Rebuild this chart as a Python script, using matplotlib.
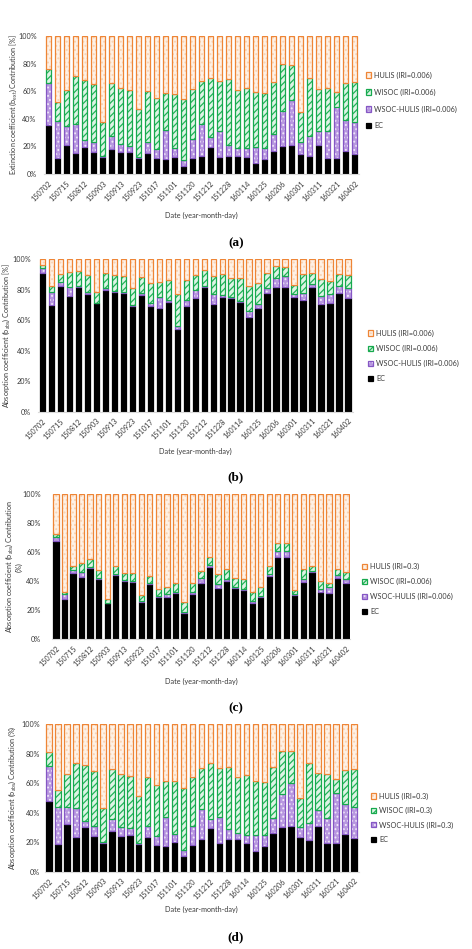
import matplotlib
matplotlib.use("Agg")
import matplotlib.pyplot as plt
from matplotlib.patches import Patch
import numpy as np

plt.rcParams['font.family'] = ['Lato', 'DejaVu Sans']
plt.rcParams['mathtext.fontset'] = 'custom'
plt.rcParams['mathtext.rm'] = 'Lato'
plt.rcParams['mathtext.it'] = 'Lato:italic'
plt.rcParams['hatch.linewidth'] = 0.9

dates = ['150702', '150709', '150715', '150722', '150812', '150822', '150903', '150908',
         '150913', '150918', '150923', '151005', '151017', '151023', '151101', '151110',
         '151120', '151201', '151212', '151220', '151228', '160105', '160114', '160120',
         '160125', '160201', '160206', '160220', '160301', '160305', '160311', '160316',
         '160321', '160327', '160402']

# ---- panel (a): extinction contribution, %
a_ec = [35.5, 11.8, 21.0, 15.5, 19.8, 15.7, 12.6, 17.9, 16.2, 16.2, 11.6, 15.5, 11.6, 10.6, 12.6, 5.8, 11.4, 13.3,
        19.8, 12.1, 13.3, 13.3, 12.6, 8.2, 10.6, 16.9, 20.5, 21.0, 14.5, 13.3, 21.0, 11.8, 11.8, 16.7, 14.3]
a_wsoc_hulis = [30.2, 26.8, 14.0, 20.7, 4.8, 7.7, 0.4, 9.6, 5.5, 4.1, 0.5, 7.9, 6.5, 21.3, 6.0, 4.3, 14.0, 22.7,
                7.3, 19.3, 7.7, 5.3, 6.0, 11.6, 8.0, 12.1, 25.2, 32.6, 8.9, 14.2, 10.2, 19.4, 37.0, 22.4, 23.1]
a_wisoc = [10.1, 13.3, 25.9, 34.8, 43.5, 41.6, 24.9, 38.2, 40.9, 40.6, 34.8, 36.7, 37.2, 26.6, 39.4, 44.2, 36.0, 31.6,
           42.7, 36.2, 47.6, 42.3, 44.0, 39.9, 39.9, 37.9, 34.0, 25.4, 21.3, 42.3, 30.2, 31.4, 10.4, 27.1, 29.0]
a_hulis = [24.2, 48.1, 39.1, 29.0, 31.9, 35.0, 62.1, 34.3, 37.4, 39.1, 53.1, 39.9, 44.7, 41.5, 42.0, 45.7, 38.6, 32.4,
           30.2, 32.4, 31.4, 39.1, 37.4, 40.3, 41.5, 33.1, 20.3, 21.0, 55.3, 30.2, 38.6, 37.4, 40.8, 33.8, 33.6]

# ---- panel (b): absorption contribution, %
b_ec = [90.8, 70.0, 82.7, 76.1, 82.1, 77.0, 71.1, 79.9, 78.3, 78.1, 69.4, 76.6, 69.6, 67.8, 72.2, 54.3, 69.4, 74.4,
        81.6, 70.7, 75.5, 74.4, 72.2, 61.9, 68.3, 78.1, 81.6, 82.1, 75.1, 73.3, 82.1, 70.5, 71.1, 77.7, 74.8]
b_wsoc_hulis = [3.3, 8.8, 2.2, 5.5, 0.4, 1.8, 0.5, 1.5, 0.9, 0.7, 0.6, 1.5, 1.5, 7.7, 1.1, 2.2, 3.9, 5.5,
                0.7, 6.3, 1.1, 0.7, 0.7, 4.4, 2.2, 2.9, 5.9, 7.2, 2.1, 4.4, 1.5, 5.6, 5.9, 5.0, 6.2]
b_wisoc = [2.2, 3.9, 5.3, 10.3, 10.1, 10.9, 7.2, 9.4, 10.5, 10.5, 11.0, 10.5, 13.1, 9.4, 13.1, 20.7, 13.1, 9.8,
           10.7, 12.3, 13.8, 12.9, 14.6, 16.2, 13.7, 9.8, 8.1, 5.9, 6.0, 12.5, 7.2, 11.0, 9.0, 7.7, 8.7]
b_hulis = [3.7, 17.3, 9.8, 8.1, 7.4, 10.3, 21.2, 9.2, 10.3, 10.7, 19.0, 11.4, 15.8, 15.1, 13.6, 22.8, 13.6, 10.3,
           7.0, 10.7, 9.6, 12.0, 12.5, 17.5, 15.8, 9.2, 4.4, 4.8, 16.8, 9.8, 9.2, 12.9, 14.0, 9.6, 10.3]

# ---- panel (c): absorption contribution, %, HULIS IRI=0.3
c_ec = [68.0, 27.4, 45.9, 42.6, 48.8, 41.2, 24.7, 44.2, 40.1, 39.6, 25.8, 37.8, 28.8, 28.8, 32.0, 18.2, 30.9, 38.5,
        50.0, 35.0, 40.3, 35.5, 33.9, 24.7, 28.8, 43.5, 56.9, 56.9, 30.4, 39.6, 46.1, 32.7, 31.6, 41.9, 38.9]
c_wsoc_hulis = [2.7, 3.7, 1.8, 3.9, 0.7, 0.7, 0.4, 0.7, 0.7, 0.5, 0.7, 0.7, 0.9, 2.3, 0.7, 0.7, 1.8, 3.4,
                1.2, 2.8, 0.9, 0.7, 0.9, 1.6, 0.9, 1.4, 3.9, 4.2, 0.7, 1.6, 0.7, 1.6, 4.6, 2.6, 2.3]
c_wisoc = [1.7, 1.6, 2.8, 5.8, 5.6, 5.8, 2.3, 5.8, 5.1, 5.3, 3.7, 5.0, 5.1, 4.6, 5.8, 6.4, 6.2, 5.3,
           5.3, 6.9, 7.2, 6.0, 6.4, 6.0, 6.0, 5.6, 5.8, 5.5, 2.8, 7.4, 3.7, 6.0, 2.3, 3.9, 5.3]
c_hulis = [27.6, 67.3, 49.5, 47.7, 44.9, 52.3, 72.6, 49.3, 54.1, 54.6, 69.8, 56.5, 65.2, 64.3, 61.5, 74.7, 61.1, 52.8,
           43.5, 55.3, 51.6, 57.8, 58.8, 67.7, 64.3, 49.5, 33.4, 33.4, 66.1, 51.4, 49.5, 59.7, 61.5, 51.6, 53.5]

# ---- panel (d): absorption contribution, %, all IRI=0.3
d_ec = [48.2, 18.6, 32.1, 23.8, 30.5, 24.4, 19.7, 27.6, 24.4, 24.9, 18.8, 23.8, 18.1, 17.4, 20.4, 10.6, 18.1, 21.9,
        29.9, 19.2, 22.2, 21.9, 19.7, 14.0, 17.4, 26.0, 30.5, 31.2, 23.3, 21.5, 31.0, 19.2, 19.7, 25.6, 22.6]
d_wsoc_hulis = [23.7, 25.1, 11.6, 19.2, 3.9, 6.6, 0.4, 7.9, 5.7, 4.5, 0.4, 7.2, 6.3, 19.9, 5.2, 4.1, 12.9, 20.4,
                5.6, 17.7, 6.8, 4.1, 5.2, 10.9, 7.5, 10.2, 22.0, 28.8, 7.2, 11.8, 10.9, 17.5, 33.5, 20.1, 21.1]
d_wisoc = [9.1, 11.7, 22.6, 31.0, 38.0, 37.6, 22.9, 34.0, 36.0, 35.5, 32.2, 33.5, 34.4, 24.2, 35.9, 41.9, 33.5, 28.3,
           38.5, 33.7, 42.3, 38.5, 40.7, 36.6, 36.2, 35.1, 29.6, 21.9, 19.3, 40.2, 25.3, 29.4, 9.5, 23.3, 25.8]
d_hulis = [19.0, 44.6, 33.7, 26.0, 27.6, 31.4, 57.0, 30.5, 33.9, 35.1, 48.6, 35.5, 41.2, 38.5, 38.5, 43.4, 35.5, 29.4,
           26.0, 29.4, 28.7, 35.5, 34.4, 38.5, 38.9, 28.7, 17.9, 18.1, 50.2, 26.5, 32.8, 33.9, 37.3, 31.0, 30.5]

yticks = [0, 20, 40, 60, 80, 100]
ytick_labels = ['0%', '20%', '40%', '60%', '80%', '100%']

W, H = 472, 949
fig = plt.figure(figsize=(W / 100, H / 100), dpi=100)

# face colour, hatch pattern, hatch colour, outline colour
styles = {
    'EC': dict(face='black', hatch=None, hcol='black', edge='black'),
    'WSOC-HULIS': dict(face='#B898E0', hatch='....', hcol='#F1E8FA', edge='#8557C4'),
    'WISOC': dict(face='#DDF4E5', hatch='/////', hcol='#20B358', edge='#17A94E'),
    'HULIS': dict(face='#FEF1E6', hatch='....', hcol='#F8D3B4', edge='#EE8536'),
}

panels = [
    dict(data=(a_ec, a_wsoc_hulis, a_wisoc, a_hulis), box=(44.2, 359.2, 36, 174),
         ylabel='Extinction coefficient (b$_{\\mathrm{ext}}$) Contribution [%]', ylx=13,
         legend=['HULIS (IRI=0.006)', 'WISOC (IRI=0.006)', 'WSOC-HULIS (IRI=0.006)', 'EC'],
         leg=(366, 76, 1.35), xl_y=215, tag='(a)', tag_y=243, pad=5.5),
    dict(data=(b_ec, b_wsoc_hulis, b_wisoc, b_hulis), box=(38.2, 352.5, 259.3, 411.7),
         ylabel='Absorption coefficient (b$_{\\mathrm{abs}}$) Contribution [%]', ylx=6,
         legend=['HULIS (IRI=0.006)', 'WISOC (IRI=0.006)', 'WSOC-HULIS (IRI=0.006)', 'EC'],
         leg=(368, 334, 1.1), xl_y=451, tag='(b)', tag_y=477, pad=5),
    dict(data=(c_ec, c_wsoc_hulis, c_wisoc, c_hulis), box=(51.7, 350.3, 494.3, 639),
         ylabel='Absorption coefficient (b$_{\\mathrm{abs}}$) Contribution\n(%)', ylx=13,
         legend=['HULIS (IRI=0.3)', 'WISOC (IRI=0.006)', 'WSOC-HULIS (IRI=0.006)', 'EC'],
         leg=(362, 567.7, 1.07), xl_y=681, tag='(c)', tag_y=708, pad=8),
    dict(data=(d_ec, d_wsoc_hulis, d_wisoc, d_hulis), box=(44.5, 358.5, 724.3, 871.7),
         ylabel='Absorption coefficient (b$_{\\mathrm{abs}}$) Contribution (%)', ylx=12,
         legend=['HULIS (IRI=0.3)', 'WISOC (IRI=0.3)', 'WSOC-HULIS (IRI=0.3)', 'EC'],
         leg=(371, 797, 1.0), xl_y=909, tag='(d)', tag_y=937, pad=3),
]

FS = 5.2
TXT = '#3A3A3A'
x = np.arange(len(dates))
for p in panels:
    l, r, t, b = p['box']
    ax = fig.add_axes([l / W, 1 - b / H, (r - l) / W, (b - t) / H])
    ec, wh, wi, hu = [np.array(v) for v in p['data']]
    bottom = np.zeros(len(dates))
    for name, vals in (('EC', ec), ('WSOC-HULIS', wh), ('WISOC', wi), ('HULIS', hu)):
        st = styles[name]
        # fill with hatch
        ax.bar(x, vals, width=0.62, bottom=bottom, facecolor=st['face'],
               edgecolor=st['hcol'], hatch=st['hatch'], linewidth=0)
        # outline
        ax.bar(x, vals, width=0.62, bottom=bottom, facecolor='none',
               edgecolor=st['edge'], linewidth=0.9)
        bottom = bottom + vals
    ax.set_xlim(-0.5, len(dates) - 0.5)
    ax.set_ylim(0, 100)
    ax.set_yticks(yticks)
    ax.set_yticklabels(ytick_labels, fontsize=FS, color=TXT)
    ax.set_xticks(x[::2])
    ax.set_xticklabels(dates[::2], rotation=45, ha='right', rotation_mode='anchor',
                       fontsize=FS, color=TXT)
    ax.tick_params(axis='both', length=0)
    ax.tick_params(axis='y', pad=p['pad'])
    ax.tick_params(axis='x', pad=4)
    for s in ('top', 'right', 'left'):
        ax.spines[s].set_visible(False)
    ax.spines['bottom'].set_color('#D9D9D9')
    ax.spines['bottom'].set_linewidth(0.8)

    fig.text((l + r) / 2 / W, 1 - p['xl_y'] / H, 'Date (year-month-day)', ha='center', va='center',
             fontsize=FS, color=TXT)
    fig.text(p['ylx'] / W, 1 - (t + b) / 2 / H, p['ylabel'], ha='center', va='center',
             rotation=90, fontsize=FS, color=TXT, multialignment='center')
    fig.text(236 / W, 1 - p['tag_y'] / H, p['tag'], ha='center', va='center', fontsize=9.5,
             fontweight='bold', family=['Liberation Serif', 'DejaVu Serif'])

    handles = []
    for k in ('HULIS', 'WISOC', 'WSOC-HULIS', 'EC'):
        st = styles[k]
        handles.append((Patch(facecolor=st['face'], edgecolor=st['hcol'], hatch=st['hatch'], linewidth=0),
                        Patch(facecolor='none', edgecolor=st['edge'], linewidth=0.9)))
    lx, ly, ls = p['leg']
    fig.legend(handles, p['legend'], loc='upper left', bbox_to_anchor=(lx / W, 1 - (ly - 4.5) / H),
               frameon=False, fontsize=FS, borderpad=0, borderaxespad=0, handlelength=0.75,
               handleheight=0.75, handletextpad=0.4, labelspacing=ls, labelcolor=TXT)

fig.savefig('out.png', dpi=100)
